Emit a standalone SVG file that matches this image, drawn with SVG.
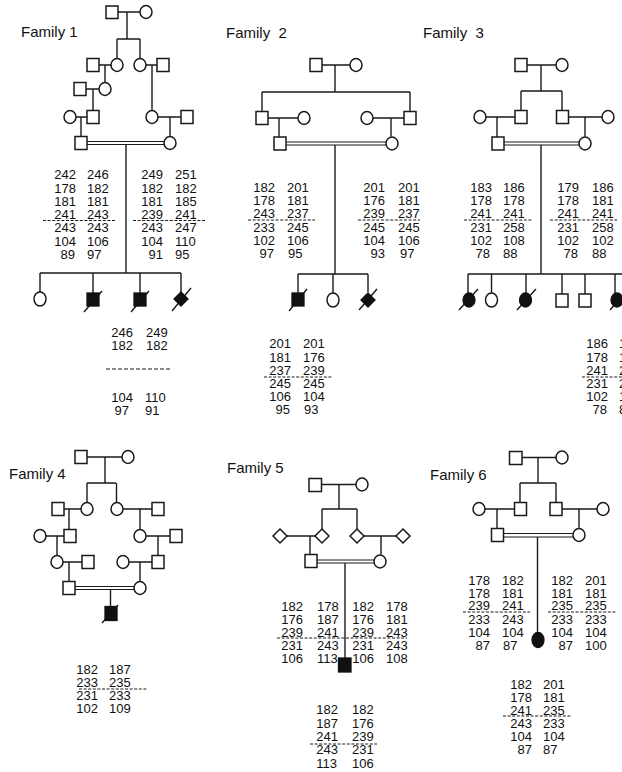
<svg xmlns="http://www.w3.org/2000/svg" width="622" height="772" viewBox="0 0 622 772">
<style>
  .bg{fill:#fff}
  .ttl{font-family:"Liberation Sans",Arial,sans-serif;font-size:15px;fill:#111}
  .n{font-family:"Liberation Sans",Arial,sans-serif;font-size:13px;fill:#111}
  .conn path{fill:none;stroke:#1a1a1a;stroke-width:1.4}
  .conn path.dbl{stroke-width:1.1}
  .sym{fill:#fff;stroke:#1a1a1a;stroke-width:1.5}
  .aff{fill:#111;stroke:#111;stroke-width:1.3}
  .slash{stroke:#111;stroke-width:1.3;fill:none}
  .dash{stroke:#1a1a1a;stroke-width:1;stroke-dasharray:3 1.6;fill:none}
  .dash2{stroke:#1a1a1a;stroke-width:1;stroke-dasharray:4 2;fill:none}
</style>
<rect class="bg" x="0" y="0" width="622" height="772"/>

<!-- ===================== Family 1 ===================== -->
<g id="family1">
  <text class="ttl" x="21" y="37">Family 1</text>
  <g id="f1-connectors" class="conn">
    <path d="M118 12H140M127 12V39M117 39H140M117 39V58.5M140 39V58.5"/>
    <path d="M99 65H111M105 65V82.5M146 65H157M152 65V110.5"/>
    <path d="M86 89H99M93 89V110.5M76 117H87M81 117V136.5M158 117H181M170 117V136.5"/>
    <path class="dbl" d="M87 141.5H164M87 144.5H164"/>
    <path d="M126 144.5V273M40 273H181M40 273V292M93 273V293M140 273V293M181 273V292"/>
  </g>
  <g id="f1-I1"><rect class="sym" x="106" y="6" width="12" height="12.5"/></g>
  <g id="f1-I2"><ellipse class="sym" cx="146" cy="12" rx="6" ry="6.5"/></g>
  <g id="f1-II1"><rect class="sym" x="87" y="58.5" width="12" height="13"/></g>
  <g id="f1-II2"><ellipse class="sym" cx="117" cy="65" rx="6" ry="6.5"/></g>
  <g id="f1-II3"><ellipse class="sym" cx="140" cy="65" rx="6" ry="6.5"/></g>
  <g id="f1-II4"><rect class="sym" x="157" y="58.5" width="12" height="13"/></g>
  <g id="f1-III1"><rect class="sym" x="74" y="82.5" width="12" height="13"/></g>
  <g id="f1-III2"><ellipse class="sym" cx="105" cy="89" rx="6" ry="6.5"/></g>
  <g id="f1-IV1"><ellipse class="sym" cx="70" cy="117" rx="6" ry="6.5"/></g>
  <g id="f1-IV2"><rect class="sym" x="87" y="110.5" width="12" height="13"/></g>
  <g id="f1-IV3"><ellipse class="sym" cx="152" cy="117" rx="6" ry="6.5"/></g>
  <g id="f1-IV4"><rect class="sym" x="181" y="110.5" width="12" height="13"/></g>
  <g id="f1-V1"><rect class="sym" x="75" y="136.5" width="12" height="13"/></g>
  <g id="f1-V2"><ellipse class="sym" cx="170" cy="143" rx="6" ry="6.5"/></g>
  <g id="f1-VI1"><ellipse class="sym" cx="40" cy="299" rx="6" ry="7"/></g>
  <g id="f1-VI2"><rect class="aff" x="87" y="293" width="12" height="13"/><path class="slash" d="M84 312L102 291"/></g>
  <g id="f1-VI3"><rect class="aff" x="134" y="293" width="12" height="13"/><path class="slash" d="M131 312L149 291"/></g>
  <g id="f1-VI4"><path class="aff" d="M181 292L188 299L181 306L174 299Z"/><path class="slash" d="M172 311L191 288"/></g>
  <g id="f1-hap-V1">
    <text class="n"><tspan x="54.3" y="179.3">242</tspan><tspan x="54.3" y="192.5">178</tspan><tspan x="54.3" y="205.7">181</tspan><tspan x="54.3" y="219">241</tspan><tspan x="54.3" y="232">243</tspan><tspan x="54.3" y="245.5">104</tspan><tspan x="60.5" y="258.5">89</tspan></text>
    <text class="n"><tspan x="87" y="179.3">246</tspan><tspan x="87" y="192.5">182</tspan><tspan x="87" y="205.7">181</tspan><tspan x="87" y="219">243</tspan><tspan x="87" y="232">243</tspan><tspan x="87" y="245.5">106</tspan><tspan x="87" y="258.5">97</tspan></text>
    <path class="dash" d="M43 220.5H116"/>
  </g>
  <g id="f1-hap-V2">
    <text class="n"><tspan x="141.3" y="179.3">249</tspan><tspan x="141.3" y="192.5">182</tspan><tspan x="141.3" y="205.7">181</tspan><tspan x="141.3" y="219">239</tspan><tspan x="141.3" y="232">243</tspan><tspan x="141.3" y="245.5">104</tspan><tspan x="148.5" y="258.5">91</tspan></text>
    <text class="n"><tspan x="175" y="179.3">251</tspan><tspan x="175" y="192.5">182</tspan><tspan x="175" y="205.7">185</tspan><tspan x="175" y="219">241</tspan><tspan x="175" y="232">247</tspan><tspan x="175" y="245.5">110</tspan><tspan x="175" y="258.5">95</tspan></text>
    <path class="dash" d="M133 220.5H206"/>
  </g>
  <g id="f1-hap-VI3">
    <text class="n"><tspan x="111.3" y="337">246</tspan><tspan x="111.3" y="349.5">182</tspan><tspan x="111.3" y="402">104</tspan><tspan x="114.5" y="414.5">97</tspan></text>
    <text class="n"><tspan x="146" y="337">249</tspan><tspan x="146" y="349.5">182</tspan><tspan x="145" y="402">110</tspan><tspan x="145" y="414.5">91</tspan></text>
    <path class="dash2" d="M106 369H172"/>
  </g>
</g>

<!-- ===================== Family 2 ===================== -->
<g id="family2">
  <text class="ttl" x="226" y="37.5" xml:space="preserve">Family  2</text>
  <g id="f2-connectors" class="conn">
    <path d="M322 65H350M335 65V92M262 92H410M262 92V111.5M410 92V111.5"/>
    <path d="M268 118H298M279 118V137M373 118H404M391 118V136.5"/>
    <path class="dbl" d="M286 142H386M286 145H386"/>
    <path d="M335 145V274M298 274H368M298 274V293M333 274V293M368 274V292"/>
  </g>
  <g id="f2-I1"><rect class="sym" x="310" y="58.5" width="12" height="13"/></g>
  <g id="f2-I2"><ellipse class="sym" cx="356" cy="65" rx="6" ry="6.5"/></g>
  <g id="f2-II1"><rect class="sym" x="256" y="111.5" width="12" height="13"/></g>
  <g id="f2-II2"><ellipse class="sym" cx="304" cy="118" rx="6" ry="6.5"/></g>
  <g id="f2-II3"><ellipse class="sym" cx="367" cy="118" rx="6" ry="6.5"/></g>
  <g id="f2-II4"><rect class="sym" x="404" y="111.5" width="12" height="13"/></g>
  <g id="f2-III1"><rect class="sym" x="274" y="137" width="12" height="13"/></g>
  <g id="f2-III2"><ellipse class="sym" cx="392" cy="143.5" rx="6" ry="6.5"/></g>
  <g id="f2-IV1"><rect class="aff" x="292" y="293" width="12" height="13"/><path class="slash" d="M289 311L307 289"/></g>
  <g id="f2-IV2"><ellipse class="sym" cx="333" cy="300" rx="6" ry="7"/></g>
  <g id="f2-IV3"><path class="aff" d="M368 293L375 300L368 307L361 300Z"/><path class="slash" d="M359 310L377 289"/></g>
  <g id="f2-hap-III1">
    <text class="n"><tspan x="253.3" y="192.3">182</tspan><tspan x="253.3" y="205.3">178</tspan><tspan x="253.3" y="218.3">243</tspan><tspan x="253.3" y="231.5">233</tspan><tspan x="253.3" y="244.5">102</tspan><tspan x="259.5" y="257.5">97</tspan></text>
    <text class="n"><tspan x="287" y="192.3">201</tspan><tspan x="287" y="205.3">181</tspan><tspan x="287" y="218.3">237</tspan><tspan x="287" y="231.5">245</tspan><tspan x="287" y="244.5">106</tspan><tspan x="288" y="257.5">95</tspan></text>
    <path class="dash" d="M248 220H315"/>
  </g>
  <g id="f2-hap-III2">
    <text class="n"><tspan x="363.3" y="192.3">201</tspan><tspan x="363.3" y="205.3">176</tspan><tspan x="363.3" y="218.3">239</tspan><tspan x="363.3" y="231.5">245</tspan><tspan x="363.3" y="244.5">104</tspan><tspan x="370.5" y="257.5">93</tspan></text>
    <text class="n"><tspan x="398" y="192.3">201</tspan><tspan x="398" y="205.3">181</tspan><tspan x="398" y="218.3">237</tspan><tspan x="398" y="231.5">245</tspan><tspan x="398" y="244.5">106</tspan><tspan x="400" y="257.5">97</tspan></text>
    <path class="dash" d="M358 220H420"/>
  </g>
  <g id="f2-hap-IV1">
    <text class="n"><tspan x="269.3" y="348.3">201</tspan><tspan x="269.3" y="361.5">181</tspan><tspan x="269.3" y="374.5">237</tspan><tspan x="269.3" y="387.7">245</tspan><tspan x="269.3" y="401">106</tspan><tspan x="275.5" y="414">95</tspan></text>
    <text class="n"><tspan x="303" y="348.3">201</tspan><tspan x="303" y="361.5">176</tspan><tspan x="303" y="374.5">239</tspan><tspan x="303" y="387.7">245</tspan><tspan x="303" y="401">104</tspan><tspan x="304" y="414">93</tspan></text>
    <path class="dash" d="M264 377H332"/>
  </g>
</g>

<!-- ===================== Family 3 ===================== -->
<g id="family3">
  <text class="ttl" x="423" y="38" xml:space="preserve">Family  3</text>
  <g id="f3-connectors" class="conn">
    <path d="M527 65H556M541 65V91M521 91H562M521 91V110.5M562 91V110.5"/>
    <path d="M486 117H515M497 117V137M568 117H602M585 117V136.5"/>
    <path class="dbl" d="M504 142H579M504 145H579"/>
    <path d="M541 145V274M468 274H622M468 274V293M491.5 274V293M526 274V293M562 274V294M585 274V294M615 274V293"/>
  </g>
  <g id="f3-I1"><rect class="sym" x="515" y="58.5" width="12" height="13"/></g>
  <g id="f3-I2"><ellipse class="sym" cx="562" cy="65" rx="6" ry="6.5"/></g>
  <g id="f3-II1"><ellipse class="sym" cx="480" cy="117" rx="6" ry="6.5"/></g>
  <g id="f3-II2"><rect class="sym" x="515" y="110.5" width="12" height="13"/></g>
  <g id="f3-II3"><rect class="sym" x="556.5" y="110.5" width="12" height="13"/></g>
  <g id="f3-II4"><ellipse class="sym" cx="608" cy="117" rx="6" ry="6.5"/></g>
  <g id="f3-III1"><rect class="sym" x="492" y="137" width="12" height="13"/></g>
  <g id="f3-III2"><ellipse class="sym" cx="585" cy="143.5" rx="6" ry="6.5"/></g>
  <g id="f3-IV1"><ellipse class="aff" cx="469" cy="300" rx="6" ry="7"/><path class="slash" d="M459 310L478 289"/></g>
  <g id="f3-IV2"><ellipse class="sym" cx="491.5" cy="300" rx="6" ry="7"/></g>
  <g id="f3-IV3"><ellipse class="aff" cx="525.5" cy="300" rx="6" ry="7"/><path class="slash" d="M517 310L536 289"/></g>
  <g id="f3-IV4"><rect class="sym" x="556" y="294" width="12" height="13"/></g>
  <g id="f3-IV5"><rect class="sym" x="579" y="294" width="12" height="13"/></g>
  <g id="f3-IV6"><ellipse class="aff" cx="617" cy="300" rx="6" ry="7"/><path class="slash" d="M610 310L628 289"/></g>
  <g id="f3-hap-III1">
    <text class="n"><tspan x="470.3" y="192.3">183</tspan><tspan x="470.3" y="205.3">178</tspan><tspan x="470.3" y="218.3">241</tspan><tspan x="470.3" y="231.5">231</tspan><tspan x="470.3" y="244.5">102</tspan><tspan x="475.5" y="257.5">78</tspan></text>
    <text class="n"><tspan x="503" y="192.3">186</tspan><tspan x="503" y="205.3">178</tspan><tspan x="503" y="218.3">241</tspan><tspan x="503" y="231.5">258</tspan><tspan x="503" y="244.5">108</tspan><tspan x="503" y="257.5">88</tspan></text>
    <path class="dash" d="M464 220H532"/>
  </g>
  <g id="f3-hap-III2">
    <text class="n"><tspan x="557.3" y="192.3">179</tspan><tspan x="557.3" y="205.3">178</tspan><tspan x="557.3" y="218.3">241</tspan><tspan x="557.3" y="231.5">231</tspan><tspan x="557.3" y="244.5">102</tspan><tspan x="563.5" y="257.5">78</tspan></text>
    <text class="n"><tspan x="592" y="192.3">186</tspan><tspan x="592" y="205.3">181</tspan><tspan x="592" y="218.3">241</tspan><tspan x="592" y="231.5">258</tspan><tspan x="592" y="244.5">102</tspan><tspan x="592" y="257.5">88</tspan></text>
    <path class="dash" d="M550 220H617"/>
  </g>
  <g id="f3-hap-IV6">
    <text class="n"><tspan x="586.3" y="348.3">186</tspan><tspan x="586.3" y="361.5">178</tspan><tspan x="586.3" y="374.5">241</tspan><tspan x="586.3" y="387.7">231</tspan><tspan x="586.3" y="401">102</tspan><tspan x="592.5" y="414">78</tspan></text>
    <text class="n"><tspan x="619" y="348.3">186</tspan><tspan x="619" y="361.5">181</tspan><tspan x="619" y="374.5">241</tspan><tspan x="619" y="387.7">258</tspan><tspan x="619" y="401">102</tspan><tspan x="619" y="414">88</tspan></text>
    <path class="dash" d="M582 377H622"/>
  </g>
</g>

<!-- ===================== Family 4 ===================== -->
<g id="family4">
  <text class="ttl" x="9" y="479">Family 4</text>
  <g id="f4-connectors" class="conn">
    <path d="M87 457H122M105 457V483M87 483H116M87 483V502.5M116.5 483V502.5"/>
    <path d="M64 509H81M69 509V529.5M46 536H64M57 536V555.5M63 562H82M69 562V581.5"/>
    <path d="M123 509H152M140 509V529.5M146 536H170M158 536V555.5M129 562H152M140 562V581.5"/>
    <path class="dbl" d="M75 586.5H134M75 589.5H134"/>
    <path d="M110.5 589.5V606.5"/>
  </g>
  <g id="f4-I1"><rect class="sym" x="75" y="450.5" width="12" height="13"/></g>
  <g id="f4-I2"><ellipse class="sym" cx="128" cy="457" rx="6" ry="6.5"/></g>
  <g id="f4-II1"><rect class="sym" x="52" y="502.5" width="12" height="13"/></g>
  <g id="f4-II2"><ellipse class="sym" cx="87" cy="509" rx="6" ry="6.5"/></g>
  <g id="f4-II3"><ellipse class="sym" cx="117" cy="509" rx="6" ry="6.5"/></g>
  <g id="f4-II4"><rect class="sym" x="152" y="502.5" width="12" height="13"/></g>
  <g id="f4-III1"><ellipse class="sym" cx="40" cy="536" rx="6" ry="6.5"/></g>
  <g id="f4-III2"><rect class="sym" x="64" y="529.5" width="12" height="13"/></g>
  <g id="f4-III3"><ellipse class="sym" cx="140" cy="536" rx="6" ry="6.5"/></g>
  <g id="f4-III4"><rect class="sym" x="170" y="529.5" width="12" height="13"/></g>
  <g id="f4-IV1"><ellipse class="sym" cx="57" cy="562" rx="6" ry="6.5"/></g>
  <g id="f4-IV2"><rect class="sym" x="82" y="555.5" width="12" height="13"/></g>
  <g id="f4-IV3"><ellipse class="sym" cx="123" cy="562" rx="6" ry="6.5"/></g>
  <g id="f4-IV4"><rect class="sym" x="152" y="555.5" width="12" height="13"/></g>
  <g id="f4-V1"><rect class="sym" x="63" y="581.5" width="12" height="13"/></g>
  <g id="f4-V2"><ellipse class="sym" cx="140" cy="588" rx="6" ry="6.5"/></g>
  <g id="f4-VI1"><rect class="aff" x="105" y="606.5" width="12" height="14"/><path class="slash" d="M102 623L118 605"/></g>
  <g id="f4-hap-VI1">
    <text class="n"><tspan x="76.3" y="674.3">182</tspan><tspan x="76.3" y="687.3">233</tspan><tspan x="76.3" y="700.3">231</tspan><tspan x="76.3" y="713.3">102</tspan></text>
    <text class="n"><tspan x="109" y="674.3">187</tspan><tspan x="109" y="687.3">235</tspan><tspan x="109" y="700.3">233</tspan><tspan x="109" y="713.3">109</tspan></text>
    <path class="dash" d="M79 689H147"/>
  </g>
</g>

<!-- ===================== Family 5 ===================== -->
<g id="family5">
  <text class="ttl" x="227" y="473">Family 5</text>
  <g id="f5-connectors" class="conn">
    <path d="M322 484.5H356M339 484.5V509M322 509H357M322 509V529M357 509V529"/>
    <path d="M287 536H315M310 536V554.5M364 536H396M381 536V554.5"/>
    <path class="dbl" d="M317 560H374M317 563H374"/>
    <path d="M345 563V658"/>
  </g>
  <g id="f5-I1"><rect class="sym" x="309" y="478.5" width="12.5" height="13"/></g>
  <g id="f5-I2"><ellipse class="sym" cx="362" cy="484.5" rx="6" ry="6.5"/></g>
  <g id="f5-II1"><path class="sym" d="M280 529L287 536L280 543L273 536Z"/></g>
  <g id="f5-II2"><path class="sym" d="M322 529L329 536L322 543L315 536Z"/></g>
  <g id="f5-II3"><path class="sym" d="M357 529L364 536L357 543L350 536Z"/></g>
  <g id="f5-II4"><path class="sym" d="M403 529L410 536L403 543L396 536Z"/></g>
  <g id="f5-III1"><rect class="sym" x="305" y="554.5" width="12" height="13"/></g>
  <g id="f5-III2"><ellipse class="sym" cx="380" cy="561.5" rx="6" ry="6.5"/></g>
  <g id="f5-IV1"><rect class="aff" x="338.5" y="658" width="12.5" height="14"/></g>
  <g id="f5-hap-III1">
    <text class="n"><tspan x="281.3" y="611">182</tspan><tspan x="281.3" y="624">176</tspan><tspan x="281.3" y="637">239</tspan><tspan x="281.3" y="649.5">231</tspan><tspan x="281.3" y="663">106</tspan></text>
    <text class="n"><tspan x="317" y="611">178</tspan><tspan x="317" y="624">187</tspan><tspan x="317" y="637">241</tspan><tspan x="317" y="649.5">243</tspan><tspan x="317" y="663">113</tspan></text>
  </g>
  <g id="f5-hap-III2">
    <text class="n"><tspan x="352.3" y="611">182</tspan><tspan x="352.3" y="624">176</tspan><tspan x="352.3" y="637">239</tspan><tspan x="352.3" y="649.5">231</tspan><tspan x="352.3" y="663">106</tspan></text>
    <text class="n"><tspan x="386" y="611">178</tspan><tspan x="386" y="624">181</tspan><tspan x="386" y="637">243</tspan><tspan x="386" y="649.5">243</tspan><tspan x="386" y="663">108</tspan></text>
  </g>
  <path class="dash" d="M277 638H407"/>
  <g id="f5-hap-IV1">
    <text class="n"><tspan x="316.3" y="714.3">182</tspan><tspan x="316.3" y="727.7">187</tspan><tspan x="316.3" y="740.7">241</tspan><tspan x="316.3" y="754.3">243</tspan><tspan x="316.3" y="767.7">113</tspan></text>
    <text class="n"><tspan x="352" y="714.3">182</tspan><tspan x="352" y="727.7">176</tspan><tspan x="352" y="740.7">239</tspan><tspan x="352" y="754.3">231</tspan><tspan x="352" y="767.7">106</tspan></text>
    <path class="dash" d="M310 744H377"/>
  </g>
</g>

<!-- ===================== Family 6 ===================== -->
<g id="family6">
  <text class="ttl" x="430" y="480">Family 6</text>
  <g id="f6-connectors" class="conn">
    <path d="M522 457.5H556M538 457.5V483M520 483H556M520 483V502.5M556 483V502.5"/>
    <path d="M485 509H514M497 509V528.5M562 509H597M579 509V528.5"/>
    <path class="dbl" d="M503 533.5H573M503 537H573"/>
    <path d="M537.5 537V632.5"/>
  </g>
  <g id="f6-I1"><rect class="sym" x="509.5" y="451.5" width="12.5" height="13"/></g>
  <g id="f6-I2"><ellipse class="sym" cx="562" cy="457.5" rx="6" ry="6.5"/></g>
  <g id="f6-II1"><ellipse class="sym" cx="479" cy="509" rx="6" ry="6.5"/></g>
  <g id="f6-II2"><rect class="sym" x="514.5" y="502.5" width="12" height="13"/></g>
  <g id="f6-II3"><rect class="sym" x="550" y="502.5" width="12" height="13"/></g>
  <g id="f6-II4"><ellipse class="sym" cx="603" cy="509" rx="6" ry="6.5"/></g>
  <g id="f6-III1"><rect class="sym" x="491.5" y="528.5" width="12" height="13"/></g>
  <g id="f6-III2"><ellipse class="sym" cx="579" cy="535" rx="6" ry="6.5"/></g>
  <g id="f6-IV1"><ellipse class="aff" cx="538" cy="640" rx="6" ry="7.5"/></g>
  <g id="f6-hap-III1">
    <text class="n"><tspan x="468.3" y="585">178</tspan><tspan x="468.3" y="597.5">178</tspan><tspan x="468.3" y="610">239</tspan><tspan x="468.3" y="623.5">233</tspan><tspan x="468.3" y="636.7">104</tspan><tspan x="475.5" y="650">87</tspan></text>
    <text class="n"><tspan x="502" y="585">182</tspan><tspan x="502" y="597.5">181</tspan><tspan x="502" y="610">241</tspan><tspan x="502" y="623.5">243</tspan><tspan x="502" y="636.7">104</tspan><tspan x="503" y="650">87</tspan></text>
    <path class="dash" d="M463 612H530"/>
  </g>
  <g id="f6-hap-III2">
    <text class="n"><tspan x="551.3" y="585">182</tspan><tspan x="551.3" y="597.5">181</tspan><tspan x="551.3" y="610">235</tspan><tspan x="551.3" y="623.5">233</tspan><tspan x="551.3" y="636.7">104</tspan><tspan x="558.5" y="650">87</tspan></text>
    <text class="n"><tspan x="585" y="585">201</tspan><tspan x="585" y="597.5">181</tspan><tspan x="585" y="610">235</tspan><tspan x="585" y="623.5">233</tspan><tspan x="585" y="636.7">104</tspan><tspan x="585" y="650">100</tspan></text>
    <path class="dash" d="M548 612H617"/>
  </g>
  <g id="f6-hap-IV1">
    <text class="n"><tspan x="510.3" y="689.3">182</tspan><tspan x="510.3" y="701.7">178</tspan><tspan x="510.3" y="715">241</tspan><tspan x="510.3" y="727.7">243</tspan><tspan x="510.3" y="741">104</tspan><tspan x="517.5" y="754">87</tspan></text>
    <text class="n"><tspan x="543" y="689.3">201</tspan><tspan x="543" y="701.7">181</tspan><tspan x="543" y="715">235</tspan><tspan x="543" y="727.7">233</tspan><tspan x="543" y="741">104</tspan><tspan x="543" y="754">87</tspan></text>
    <path class="dash" d="M503 716H572"/>
  </g>
</g>
</svg>
